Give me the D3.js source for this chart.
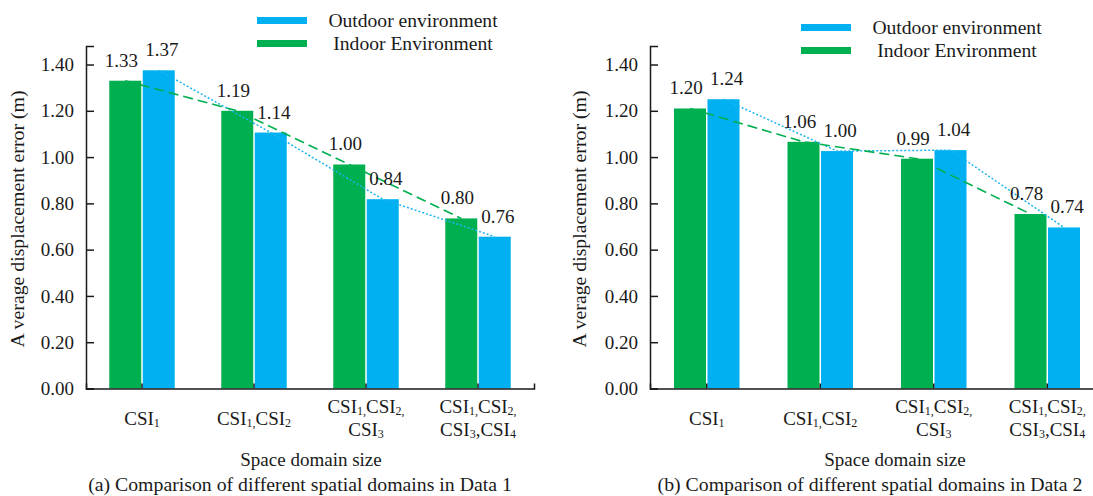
<!DOCTYPE html>
<html>
<head>
<meta charset="utf-8">
<script src="https://cdn.jsdelivr.net/npm/d3@7"></script>
<style>
  body { margin: 0; background: #fff; }
  svg text { font-family: "Liberation Serif", "Times New Roman", serif; fill: #1a1a1a; }
</style>
</head>
<body>
<svg id="chart" width="1093" height="496"></svg>
<script>
'use strict';

// Categories: {..} marks subscript text
const categoryLines = [
    ["CSI{1}"],
    ["CSI{1,}CSI{2}"],
    ["CSI{1,}CSI{2,}", "CSI{3}"],
    ["CSI{1,}CSI{2,}", "CSI{3},CSI{4}"]
];
const seriesNames = ["Outdoor environment", "Indoor Environment"];
const yTicks = [0, 0.2, 0.4, 0.6, 0.8, 1.0, 1.2, 1.4];

// Data 1 (bar heights as drawn, and printed labels)
const indoorA = [1.33, 1.20, 0.968, 0.735];
const outdoorA = [1.375, 1.106, 0.818, 0.656];
const indoorLabelsA = ["1.33", "1.19", "1.00", "0.80"];
const outdoorLabelsA = ["1.37", "1.14", "0.84", "0.76"];

// Data 2
const indoorB = [1.21, 1.066, 0.993, 0.754];
const outdoorB = [1.25, 1.026, 1.03, 0.696];
const indoorLabelsB = ["1.20", "1.06", "0.99", "0.78"];
const outdoorLabelsB = ["1.24", "1.00", "1.04", "0.74"];

const GREEN = "#00b050";
const BLUE = "#00b0f0";
const INK = "#1a1a1a";

const svg = d3.select("#chart");

/**
 * Ecrire un texte avec indices ({..} = indice)
 */
function texteIndice(sel, str) {
    const parts = str.split(/(\{[^}]*\})/).filter(s => s.length);
    parts.forEach(p => {
        if (p[0] === "{") {
            sel.append("tspan").text(p.slice(1, -1))
                .attr("font-size", 12).attr("dy", 2);
        } else {
            sel.append("tspan").text(p).attr("dy", sel.selectAll("tspan").size() ? -2 : 0);
        }
    });
}

/**
 * Dessiner un panneau (a) ou (b)
 */
function dessinerPanneau(p) {
    const g = svg.append("g");
    const x = d3.scaleBand().domain(d3.range(categoryLines.length)).range([p.left, p.right]);
    const y = d3.scaleLinear().domain([0, 1.48]).range([388.5, 46]);
    const bw = 32, gap = 0.75;

    const series = [
        {vals: p.indoor, labels: p.indoorLabels, color: GREEN, off: -bw - gap, dx: -4},
        {vals: p.outdoor, labels: p.outdoorLabels, color: BLUE, off: gap, dx: 3}
    ];

    // Barres
    series.forEach(s => {
        g.selectAll(null).data(s.vals).enter().append("rect")
            .attr("x", (d, i) => x(i) + x.bandwidth() / 2 + s.off)
            .attr("y", d => y(d))
            .attr("width", bw)
            .attr("height", d => y(0) - y(d))
            .attr("fill", s.color);
    });

    // Lignes reliant le haut des barres
    const ligne = s => d3.line()
        .x((d, i) => x(i) + x.bandwidth() / 2 + s.off + bw / 2)
        .y(d => y(d));
    g.append("path").attr("d", ligne(series[1])(series[1].vals))
        .attr("fill", "none").attr("stroke", "#1cb4f2").attr("stroke-width", 1.5)
        .attr("stroke-dasharray", "2,2");
    g.append("path").attr("d", ligne(series[0])(series[0].vals))
        .attr("fill", "none").attr("stroke", GREEN).attr("stroke-width", 1.6)
        .attr("stroke-dasharray", "10,5");

    // Axes
    const axeY = g.append("g").attr("transform", `translate(${p.left},0)`)
        .call(d3.axisLeft(y).tickValues(yTicks).tickFormat(d3.format(".2f"))
            .tickSizeInner(-8).tickSizeOuter(-8).tickPadding(12));
    const axeX = g.append("g").attr("transform", `translate(0,${y(0)})`)
        .call(d3.axisBottom(x).tickFormat("").tickSizeInner(-5).tickSizeOuter(-5));
    [axeY, axeX].forEach(a => {
        a.selectAll("path, line").attr("stroke", INK).attr("stroke-width", 1.5);
    });
    axeY.selectAll("text").attr("font-size", 19).attr("fill", INK)
        .style("font-family", "Liberation Serif, serif");

    // Etiquettes des valeurs
    series.forEach(s => {
        g.selectAll(null).data(s.labels).enter().append("text")
            .attr("x", (d, i) => x(i) + x.bandwidth() / 2 + s.off + bw / 2 + s.dx)
            .attr("y", (d, i) => y(s.vals[i]) - 14)
            .attr("text-anchor", "middle").attr("font-size", 19)
            .text(d => d);
    });

    // Etiquettes des categories
    categoryLines.forEach((lines, i) => {
        const base = lines.length === 1 ? 427 : 415;
        lines.forEach((l, k) => {
            const t = g.append("text")
                .attr("x", x(i) + x.bandwidth() / 2)
                .attr("y", base + k * 23)
                .attr("text-anchor", "middle").attr("font-size", 19);
            texteIndice(t, l);
        });
    });

    // Titre axe Y
    g.append("text")
        .attr("transform", `translate(${p.yLabelX},219) rotate(-90)`)
        .attr("text-anchor", "middle").attr("font-size", 19.8)
        .text("A verage displacement error (m)");

    // Titre axe X et legende du panneau
    g.append("text").attr("x", p.xTitleX).attr("y", 466)
        .attr("text-anchor", "middle").attr("font-size", 19).text("Space domain size");
    g.append("text").attr("x", p.captionX).attr("y", 491)
        .attr("text-anchor", "middle").attr("font-size", 19.8).text(p.caption);

    // Legende
    const leg = [{name: seriesNames[0], color: BLUE}, {name: seriesNames[1], color: GREEN}];
    leg.forEach((d, k) => {
        g.append("rect").attr("x", p.legX).attr("y", p.legY + k * 23)
            .attr("width", 50).attr("height", 7).attr("fill", d.color);
        g.append("text").attr("x", p.legX + 156).attr("y", p.legY + 10 + k * 23)
            .attr("text-anchor", "middle").attr("font-size", 19.6).text(d.name);
    });
}

dessinerPanneau({
    left: 86, right: 534,
    indoor: indoorA, outdoor: outdoorA,
    indoorLabels: indoorLabelsA, outdoorLabels: outdoorLabelsA,
    yLabelX: 24, xTitleX: 311, captionX: 300,
    caption: "(a) Comparison of different spatial domains in Data 1",
    legX: 257, legY: 17
});

dessinerPanneau({
    left: 650, right: 1104,
    indoor: indoorB, outdoor: outdoorB,
    indoorLabels: indoorLabelsB, outdoorLabels: outdoorLabelsB,
    yLabelX: 586, xTitleX: 895, captionX: 870,
    caption: "(b) Comparison of different spatial domains in Data 2",
    legX: 801, legY: 24
});
</script>
</body>
</html>
